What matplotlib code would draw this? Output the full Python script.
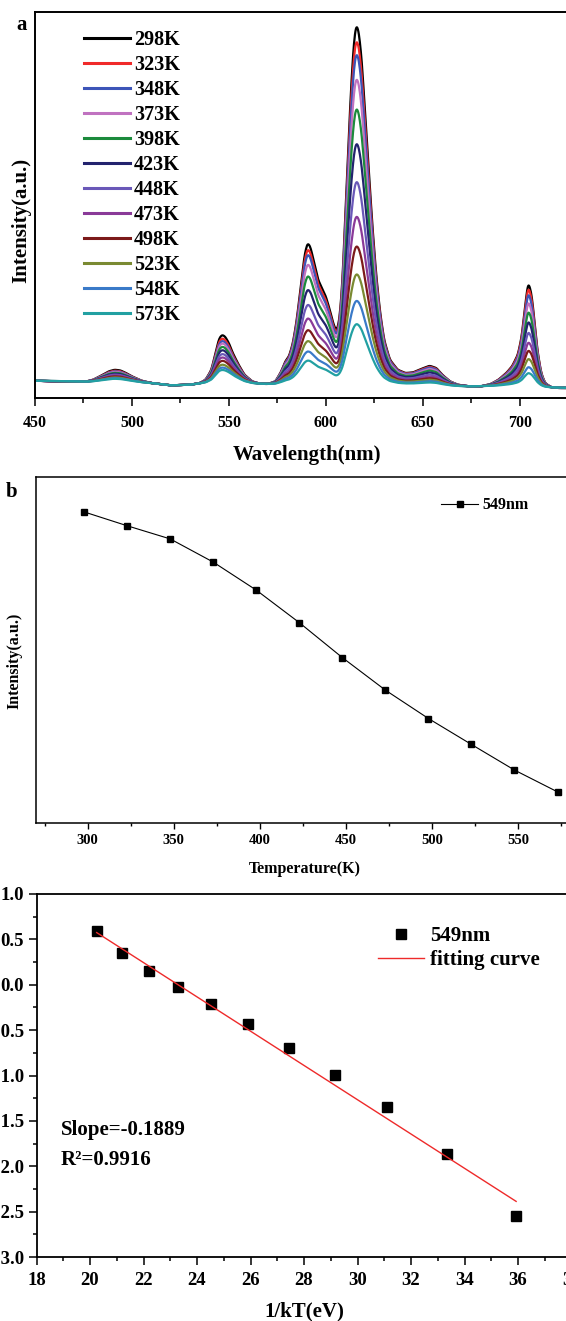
import numpy as np
import matplotlib
matplotlib.use("Agg")
import matplotlib.pyplot as plt
from matplotlib.ticker import MultipleLocator, NullLocator

plt.rcParams['font.family'] = ['Liberation Serif', 'DejaVu Serif']
plt.rcParams['font.weight'] = 'bold'
plt.rcParams['axes.labelweight'] = 'bold'

# ---- panel a: emission spectra ----
temps = [298, 323, 348, 373, 398, 423, 448, 473, 498, 523, 548, 573]
temp_labels = ['%dK' % t for t in temps]
colors = ['#000000', '#f02a2a', '#3d55b8', '#c072c0', '#1c8a3c', '#23236e',
          '#6a58b8', '#8a3a98', '#7c1a1a', '#7a8a32', '#3a7ac8', '#22a0a2']

# 298K spectrum (wavelength nm, intensity a.u.)
wl_pts = [450, 460, 470, 476, 480, 485, 488, 491, 494, 497, 500, 505, 510, 520,
          530, 535, 538, 541, 543, 545, 546.5, 548, 550, 552, 555, 558, 562, 566,
          570, 574, 577, 579, 581, 583, 585, 587, 589, 590.5, 592, 594, 596, 598,
          600, 602, 604, 605.5, 607, 608.5, 610, 611.5, 613, 614.5, 615.7, 617,
          618.5, 620, 622, 624, 626, 628, 630, 633, 637, 641, 645, 649, 653.5,
          657, 660, 664, 668, 674, 680, 685, 689, 693, 696, 699, 701, 702.5,
          704.3, 706, 707.5, 709, 711, 713, 716, 720, 730]
i298_pts = [5.2, 5.0, 5.0, 4.9, 5.5, 7.0, 8.0, 8.5, 8.3, 7.5, 6.5, 5.2, 4.5, 3.8,
            4.0, 4.5, 5.5, 8.5, 13.5, 18.0, 19.0, 18.5, 16.5, 13.5, 10.0, 7.0, 5.0, 4.3,
            4.2, 5.0, 8.0, 11.0, 12.5, 16.5, 23.5, 33.5, 43.0, 46.7, 45.5, 40.5, 35.5, 33.0,
            30.5, 26.5, 22.0, 20.0, 23.5, 34.5, 54.5, 74.5, 93.5, 107.5, 112.5, 110.0,
            101.5, 87.5, 69.5, 51.5, 36.5, 25.5, 17.5, 11.5, 8.5, 7.5, 7.7, 8.7, 9.7,
            9.0, 7.0, 5.0, 4.0, 3.5, 3.5, 4.2, 5.5, 7.5, 9.5, 13.0, 18.5, 26.5,
            35.0, 31.5, 23.5, 14.5, 7.5, 4.5, 3.3, 3.0, 3.0]
# background level shared by all curves
base_wl = [450, 470, 476, 510, 520, 530, 536, 568, 572, 675, 682, 716, 730]
base_val = [5.2, 5.0, 4.9, 4.5, 3.8, 4.0, 4.4, 4.3, 4.2, 3.5, 3.6, 3.2, 3.0]
# relative band heights at each temperature
scale_green = [1, .93, .88, .83, .76, .69, .61, .54, .47, .39, .33, .28]      # < 570 nm
scale_red = [1, .958, .922, .853, .770, .673, .567, .470, .387, .309, .235, .170]  # 570-680 nm
scale_deep = [1, .958, .903, .823, .732, .635, .532, .435, .355, .274, .194, .135]  # > 680 nm

# ---- panel b ----
temp_b = [298, 323, 348, 373, 398, 423, 448, 473, 498, 523, 548, 573]
int_b = [0.899, 0.859, 0.821, 0.754, 0.673, 0.579, 0.478, 0.384, 0.302, 0.227, 0.153, 0.090]

# ---- panel c ----
inv_kt = [20.25, 21.18, 22.19, 23.30, 24.53, 25.90, 27.43, 29.16, 31.11, 33.35, 35.93]
ln_int = [0.588, 0.349, 0.157, -0.023, -0.207, -0.431, -0.700, -0.994, -1.348, -1.867, -2.547]
slope, intercept = -0.1889, 4.40

W, H = 566, 1321
fig = plt.figure(figsize=(W / 100, H / 100), dpi=100)

def box(left, top, right, bottom):
    return [left / W, (H - bottom) / H, (right - left) / W, (bottom - top) / H]

# ---------------- a ----------------
ax1 = fig.add_axes(box(35, 12, 578, 398))
wl = np.arange(450, 730.01, 0.25)
prof = np.interp(wl, wl_pts, i298_pts)
k = np.exp(-0.5 * (np.arange(-6, 7) / 2.0) ** 2)
k /= k.sum()
prof = np.convolve(np.pad(prof, 6, mode='edge'), k, mode='valid')
base = np.interp(wl, base_wl, base_val)
for i in range(len(temps)):
    s = np.where(wl < 570, scale_green[i], np.where(wl < 680, scale_red[i], scale_deep[i]))
    ax1.plot(wl, base + s * (prof - base), color=colors[i], lw=1.6, label=temp_labels[i])
ax1.set_xlim(450, 730)
ax1.set_ylim(0, 116)
ax1.xaxis.set_major_locator(MultipleLocator(50))
ax1.xaxis.set_minor_locator(MultipleLocator(25))
ax1.yaxis.set_major_locator(NullLocator())
ax1.tick_params(axis='x', which='major', direction='out', length=5.5, width=1.1, labelsize=11.5, pad=7)
ax1.tick_params(axis='x', which='minor', direction='out', length=3.5, width=1.1)
ax1.set_xlabel('Wavelength(nm)', fontsize=15, labelpad=9.5)
ax1.set_ylabel('Intensity(a.u.)', fontsize=15)
ax1.yaxis.set_label_coords(-0.006, 0.46)
for sp in ax1.spines.values():
    sp.set_linewidth(1.4)
leg = ax1.legend(loc='upper left', bbox_to_anchor=(0.075, 0.975), frameon=False,
                 fontsize=14.5, handlelength=2.3, handletextpad=0.2, labelspacing=0.25,
                 borderaxespad=0)
for ln in leg.get_lines():
    ln.set_linewidth(2.2)
fig.text(22 / W, 1 - 25 / H, 'a', fontsize=15, ha='center', va='center')

# ---------------- b ----------------
ax2 = fig.add_axes(box(36, 477, 573, 823))
ax2.plot(temp_b, int_b, color='black', lw=0.8, marker='s', ms=5, label='549nm')
ax2.set_xlim(270, 582)
ax2.set_ylim(0, 1)
ax2.xaxis.set_major_locator(MultipleLocator(50))
ax2.xaxis.set_minor_locator(MultipleLocator(25))
ax2.yaxis.set_major_locator(NullLocator())
ax2.tick_params(axis='x', which='major', direction='out', length=4, width=1, labelsize=10.5, pad=4)
ax2.tick_params(axis='x', which='minor', direction='out', length=2.5, width=1)
ax2.set_xlabel('Temperature(K)', fontsize=11.5, labelpad=10)
ax2.set_ylabel('Intensity(a.u.)', fontsize=11.5)
ax2.yaxis.set_label_coords(-0.026, 0.468)
for sp in ax2.spines.values():
    sp.set_linewidth(1.1)
ax2.legend(loc='upper right', bbox_to_anchor=(0.93, 0.96), frameon=False, fontsize=11.5,
           handlelength=2.3, handletextpad=0.3, borderaxespad=0)
fig.text(12 / W, 1 - 492 / H, 'b', fontsize=15, ha='center', va='center')

# ---------------- c ----------------
ax3 = fig.add_axes(box(36.5, 894, 571.5, 1257))
ax3.plot(inv_kt, ln_int, ls='none', marker='s', ms=6.5, color='black', label='549nm')
xf = np.array([inv_kt[0], inv_kt[-1]])
ax3.plot(xf, slope * xf + intercept, color='#ee2a2a', lw=1.0, label='fitting curve')
ax3.set_xlim(18, 38)
ax3.set_ylim(-3, 1)
ax3.xaxis.set_major_locator(MultipleLocator(2))
ax3.xaxis.set_minor_locator(MultipleLocator(1))
ax3.yaxis.set_major_locator(MultipleLocator(0.5))
ax3.yaxis.set_minor_locator(MultipleLocator(0.25))
ax3.tick_params(which='major', direction='out', length=6, width=1.1, labelsize=13.5, pad=3)
ax3.tick_params(which='minor', direction='out', length=3, width=1.1)
ax3.tick_params(axis='x', which='major', pad=4.5)
ax3.set_xlabel('1/kT(eV)', fontsize=15, labelpad=9.5)
for sp in ax3.spines.values():
    sp.set_linewidth(1.3)
ax3.legend(loc='upper left', bbox_to_anchor=(0.623, 0.935), frameon=False, fontsize=15,
           handlelength=2.2, handletextpad=0.28, labelspacing=0.2, borderaxespad=0)
ax3.text(0.046, 0.35, 'Slope=-0.1889', transform=ax3.transAxes, fontsize=15, va='center')
ax3.text(0.046, 0.267, 'R²=0.9916', transform=ax3.transAxes, fontsize=15, va='center')

fig.savefig('out.png', dpi=100)
